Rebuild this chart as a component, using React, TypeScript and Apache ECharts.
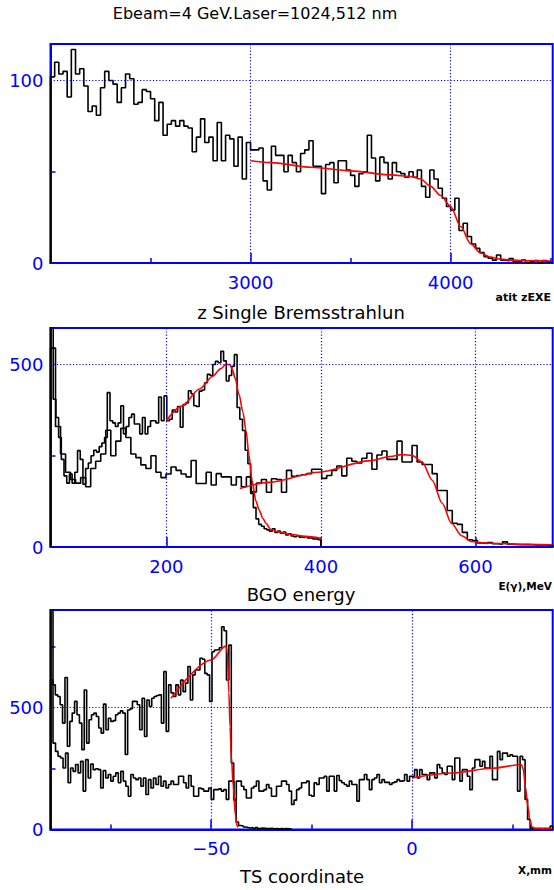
import React, { useEffect, useRef } from "react";
import * as echarts from "echarts";

const FONT = '"DejaVu Sans", Verdana, sans-serif';
const BLUE = "#0000ff";
const GRID_BLUE = "#0000ff";

// ---------- top panel: z of the interaction point ----------
const zStart = 2000;
const zBinWidth = 2500 / 120;
const zCounts = [
  102, 110, 103.6, 105, 91, 117, 103.6, 106.4, 97, 83,
  86, 81, 96, 105, 100, 98, 88, 96, 103.6, 101,
  87, 88, 95, 94, 90, 78, 88, 70, 76, 78,
  75, 78, 75, 74, 61, 69, 79, 66, 69, 56,
  77, 56, 70, 68, 53, 69, 46, 66, 62, 62,
  63, 45, 40, 64, 59, 59, 50, 59, 55, 50,
  60, 62, 67, 53, 53, 38, 54, 55, 44, 56,
  56, 51, 48, 42, 49, 50, 70, 57.5, 45, 58,
  55, 46, 55, 50, 49, 47, 50, 47, 51, 42,
  36, 51, 46, 41, 35.5, 31, 29, 35.5, 17.8, 21.8,
  14.5, 10.4, 8, 5.7, 3.5, 2.6, 1.6, 4.4, 1.6, 1.3,
  2.4, 0.7, 0.7, 1.6, 0.2, 0.7, 1.3, 0.2, 1.3, 0.7,
];
const zFitX = [3000, 3100, 3300, 3500, 3700, 3800, 3850, 3900, 3950, 4000, 4050, 4100, 4150, 4200, 4250, 4300, 4400, 4500];
const zFitY = [56, 55, 52.5, 50.5, 48.3, 47.4, 46, 42, 37, 31, 20, 10.5, 5.5, 3.2, 2.1, 1.6, 1.2, 1.1];
const zTickLabels = [3000, 4000];
const zMinorTicks = [2500, 3500, 4500];
const zCountLabels = [0, 100];
const zCountTicks = [50];
const zCountGrid = [100];

// ---------- middle panel: BGO energy, MeV ----------
const singleStart = 50;
const singleBinWidth = 3.5;
const singleCounts = [
  650, 405, 355, 300, 240, 195, 175, 200, 175, 205,
  264, 240, 172, 215, 230, 250, 265, 260, 275, 285,
  300, 423, 346, 340, 330, 340, 387, 310, 330, 355,
  364, 337, 337, 310, 355, 310, 330, 346, 346, 340,
  411, 346, 414, 346, 350, 375, 370, 385, 328, 390,
  395, 428, 420, 387, 385, 427, 430, 450, 473, 470,
  500, 509, 505, 536, 510, 455, 470, 495, 527, 382,
  350, 319, 265, 228, 147, 108, 77, 62, 57, 50,
  47, 43, 50, 40, 44, 38, 41, 33, 36, 30,
  28, 31, 27, 26, 28, 25, 24, 22, 23, 20,
];
const bremStart = 50;
const bremBinWidth = 6.5;
const bremCounts = [
  545, 330, 255, 205, 185, 175, 190, 165, 215, 235,
  255, 320, 250, 290, 325, 300, 255, 245, 225, 215,
  250, 205, 190, 200, 219, 210, 200, 192, 237, 174,
  174, 205, 170, 201, 192, 192, 170, 192, 165, 192,
  151, 175, 185, 150, 187, 185, 150, 210, 194, 196,
  198, 201, 213, 213, 188, 196, 210, 222, 195, 243,
  235, 230, 243, 257, 213, 252, 263, 240, 240, 290,
  233, 233, 278, 233, 226, 226, 201, 155, 155, 100,
  65, 62, 40, 20, 18, 11, 10, 12, 9, 8,
  14, 8, 7, 6, 7, 6, 5, 6, 5, 5,
];
const singleFitX = [200, 220, 243, 260, 270, 277, 282, 285.5, 289, 294, 299, 303, 307, 311, 316, 320, 325, 329, 335, 345, 360, 380, 400];
const singleFitY = [346, 386, 433, 468, 488, 500, 500, 486, 462, 418, 370, 319, 250, 180, 125, 101, 78, 65, 48, 41, 35, 29, 24];
const bremFitX = [295, 333, 397, 462, 490, 505, 518, 531, 544, 557, 569, 582, 595, 612, 650, 698];
const bremFitY = [160, 177, 205, 236, 248, 253, 251, 233, 183, 120, 65, 31, 15, 11, 8, 6];
const eTickLabels = [200, 400, 600];
const eCountLabels = [0, 500];
const eCountTicks = [250];
const eCountGrid = [500];

// ---------- bottom panel: TS coordinate, mm ----------
const tsAStart = -90;
const tsABinWidth = 0.6;
const tsACounts = [
  613, 593, 552, 545, 511, 436, 623, 341, 443, 477,
  525, 470, 436, 327, 572, 354, 450, 470, 477, 463,
  416, 395, 514, 409, 456, 443, 446, 470, 477, 486,
  477, 307, 490, 495, 525, 525, 511, 409, 538, 381,
  531, 504, 538, 545, 549, 552, 436, 647, 402, 593,
  560, 545, 593, 552, 613, 565, 600, 668, 531, 634,
  654, 654, 702, 698, 640, 634, 525, 729, 736, 738,
  745, 831, 815, 613, 756, 272, 120, 30, 16, 14,
  10, 8, 6, 8, 4, 7, 3, 5, 4, 3,
  3, 4, 2, 3, 2, 3, 2, 3, 2, 2,
];
const tsBStart = -90;
const tsBBinWidth = 0.625;
const tsBCounts = [
  1000, 354, 320, 300, 293, 252, 313, 191, 252, 238,
  266, 232, 279, 157, 286, 211, 268, 245, 249, 245,
  170, 241, 211, 225, 198, 218, 232, 191, 238, 198,
  177, 136, 225, 211, 204, 211, 177, 211, 143, 204,
  170, 211, 184, 218, 177, 198, 170, 184, 198, 184,
  184, 218, 218, 191, 170, 221, 177, 136, 136, 170,
  166, 157, 157, 170, 123, 163, 163, 166, 157, 163,
  123, 198, 198, 123, 198, 198, 177, 163, 129, 129,
  170, 177, 198, 157, 157, 163, 184, 170, 136, 136,
  177, 177, 198, 198, 184, 157, 102, 120, 163, 170,
  191, 191, 198, 140, 136, 191, 184, 211, 211, 218,
  157, 218, 218, 157, 221, 200, 191, 184, 177, 198,
  184, 184, 116, 204, 204, 225, 204, 163, 204, 211,
  225, 191, 204, 193, 193, 184, 191, 195, 204, 198,
  200, 225, 198, 218, 218, 245, 211, 245, 225, 225,
  204, 232, 232, 211, 266, 252, 232, 225, 259, 259,
  204, 293, 293, 198, 245, 245, 218, 163, 252, 286,
  286, 259, 279, 252, 252, 300, 204, 204, 320, 286,
  313, 313, 300, 306, 300, 300, 157, 300, 286, 123,
  41, 5, 3, 2, 3, 2, 3, 2, 4, 14,
];
const tsAFitX = [-60, -50, -46.4, -46.0, -45.6, -45.3, -45.0, -44.5, -44.0, -43.6, -43.3];
const tsAFitY = [538, 695, 752, 730, 560, 420, 300, 177, 60, 16, 8];
const tsBFitX = [0, 10, 20, 27.2, 27.7, 28.2, 28.8, 29.3, 29.8, 30.3, 32, 34.5];
const tsBFitY = [211, 231, 251, 266, 245, 177, 95, 41, 12, 5, 4, 4];
const tsTickLabels = [-50, 0];
const tsMinorTicks = [-75, -25, 25];
const tsCountLabels = [0, 500];
const tsCountTicks = [250, 750];
const tsCountGrid = [500];

// step outline of a histogram: bin edges from start, one level per bin
function histogram(start: number, width: number, counts: number[]) {
  const pts: number[][] = [[start, 0]];
  counts.forEach((c, i) => pts.push([start + i * width, c]));
  const end = start + counts.length * width;
  pts.push([end, counts[counts.length - 1]]);
  pts.push([end, 0]);
  return pts;
}

function curve(xs: number[], ys: number[]) {
  return xs.map((x, i) => [x, ys[i]]);
}

const minus = (v: number) => String(v).replace("-", "\u2212");

const dotStyle = { color: GRID_BLUE, width: 1.2, type: [1.2, 2], opacity: 1 };

// dotted grid: vertical lines at the labelled x values, horizontal ones
// drawn as explicit segments across the panel's x range
function dottedGrid(xs: number[], ys: number[], xMin: number, xMax: number) {
  return {
    silent: true,
    symbol: ["none", "none"],
    label: { show: false },
    emphasis: { disabled: true },
    lineStyle: dotStyle,
    data: [
      ...xs.map((v) => ({ xAxis: v, lineStyle: dotStyle })),
      ...ys.map((v) => [
        { coord: [xMin, v], lineStyle: dotStyle },
        { coord: [xMax, v] },
      ]),
    ],
  };
}

function histSeries(data: number[][], xi: number, yi: number) {
  return {
    type: "line",
    data,
    xAxisIndex: xi,
    yAxisIndex: yi,
    step: "end",
    symbol: "none",
    showSymbol: false,
    clip: true,
    silent: true,
    lineStyle: { color: "#000", width: 1.6 },
    z: 3,
  };
}

function fitSeries(data: number[][], xi: number, yi: number) {
  return {
    type: "line",
    data,
    xAxisIndex: xi,
    yAxisIndex: yi,
    smooth: 0.3,
    smoothMonotone: "x",
    symbol: "none",
    showSymbol: false,
    clip: true,
    silent: true,
    lineStyle: { color: "#ff0000", width: 1.6 },
    z: 4,
  };
}

// empty carrier series that only holds a panel's dotted grid lines
function gridSeries(xi: number, yi: number, xs: number[], ys: number[], xMin: number, xMax: number) {
  return {
    type: "line",
    data: [],
    xAxisIndex: xi,
    yAxisIndex: yi,
    symbol: "none",
    silent: true,
    color: GRID_BLUE,
    lineStyle: { color: GRID_BLUE },
    z: 1,
    markLine: dottedGrid(xs, ys, xMin, xMax),
  };
}

function xMajor(gridIndex: number, min: number, max: number, labels: number[]) {
  return {
    type: "value",
    gridIndex,
    min,
    max,
    position: "bottom",
    axisLine: { show: true, onZero: false, lineStyle: { color: BLUE, width: 2 } },
    axisTick: { show: true, inside: true, length: 10, customValues: labels, lineStyle: { color: BLUE, width: 1.5 } },
    axisLabel: { show: true, customValues: labels, color: BLUE, fontSize: 18, fontFamily: FONT, margin: 10, formatter: minus },
    splitLine: { show: false },
  };
}

function xMinor(gridIndex: number, min: number, max: number, ticks: number[]) {
  return {
    type: "value",
    gridIndex,
    min,
    max,
    position: "bottom",
    axisLine: { show: false },
    axisTick: { show: true, inside: true, length: 5, customValues: ticks, lineStyle: { color: BLUE, width: 1.5 } },
    axisLabel: { show: false },
    splitLine: { show: false },
  };
}

function yCounts(gridIndex: number, max: number, labels: number[], ticks: number[]) {
  return {
    type: "value",
    gridIndex,
    min: 0,
    max,
    position: "left",
    axisLine: { show: true, onZero: false, lineStyle: { color: BLUE, width: 2 } },
    axisTick: { show: true, inside: true, length: 5, customValues: ticks, lineStyle: { color: BLUE, width: 1.5 } },
    axisLabel: { show: true, customValues: labels, color: BLUE, fontSize: 18, fontFamily: FONT, margin: 7 },
    splitLine: { show: false },
  };
}

function label(text: string, x: number, y: number, size: number, align: string, bold = false) {
  return {
    type: "text",
    x,
    y,
    silent: true,
    style: {
      text,
      fill: "#000",
      fontSize: size,
      fontFamily: FONT,
      fontWeight: bold ? "bold" : "normal",
      textAlign: align,
      textVerticalAlign: "middle",
      align,
      verticalAlign: "middle",
    },
  };
}

export default function App() {
  const ref = useRef<HTMLDivElement>(null);

  useEffect(() => {
    if (!ref.current) return;
    const chart = echarts.init(ref.current, undefined, { renderer: "svg" });
    const frame = { show: true, borderColor: BLUE, borderWidth: 2, backgroundColor: "transparent" };

    chart.setOption({
      animation: false,
      backgroundColor: "#ffffff",
      grid: [
        { left: 50.5, top: 44, width: 502.2, height: 219, ...frame },
        { left: 50.5, top: 328, width: 502.2, height: 219, ...frame },
        { left: 50.5, top: 610, width: 502.2, height: 219.375, ...frame },
      ],
      xAxis: [
        xMajor(0, 2000, 4510, zTickLabels),
        xMinor(0, 2000, 4510, zMinorTicks),
        xMajor(1, 50, 700, eTickLabels),
        xMajor(2, -90, 35, tsTickLabels),
        xMinor(2, -90, 35, tsMinorTicks),
      ],
      yAxis: [
        yCounts(0, 120, zCountLabels, zCountTicks),
        yCounts(1, 600, eCountLabels, eCountTicks),
        yCounts(2, 900, tsCountLabels, tsCountTicks),
      ],
      series: [
        gridSeries(0, 0, zTickLabels, zCountGrid, 2000, 4510),
        histSeries(histogram(zStart, zBinWidth, zCounts), 0, 0),
        fitSeries(curve(zFitX, zFitY), 0, 0),

        gridSeries(2, 1, eTickLabels, eCountGrid, 50, 700),
        histSeries(histogram(singleStart, singleBinWidth, singleCounts), 2, 1),
        histSeries(histogram(bremStart, bremBinWidth, bremCounts), 2, 1),
        fitSeries(curve(singleFitX, singleFitY), 2, 1),
        fitSeries(curve(bremFitX, bremFitY), 2, 1),

        gridSeries(3, 2, tsTickLabels, tsCountGrid, -90, 35),
        histSeries(histogram(tsAStart, tsABinWidth, tsACounts), 3, 2),
        histSeries(histogram(tsBStart, tsBBinWidth, tsBCounts), 3, 2),
        fitSeries(curve(tsAFitX, tsAFitY), 3, 2),
        fitSeries(curve(tsBFitX, tsBFitY), 3, 2),
      ],
      graphic: [
        label("Ebeam=4 GeV.Laser=1024,512 nm", 255, 13, 16, "center"),
        label("z Single Bremsstrahlun", 301, 312, 18, "center"),
        label("atit zEXE", 551, 297, 11, "right", true),
        label("BGO energy", 301, 594, 18, "center"),
        label("E(\u03b3),MeV", 552, 586, 10.5, "right", true),
        label("TS coordinate", 302, 876, 18, "center"),
        label("X,mm", 552, 870, 10.5, "right", true),
      ],
    });

    return () => chart.dispose();
  }, []);

  return (
    <div
      ref={ref}
      style={{ position: "absolute", left: 0, top: 0, width: 554, height: 890, background: "#fff" }}
    />
  );
}
